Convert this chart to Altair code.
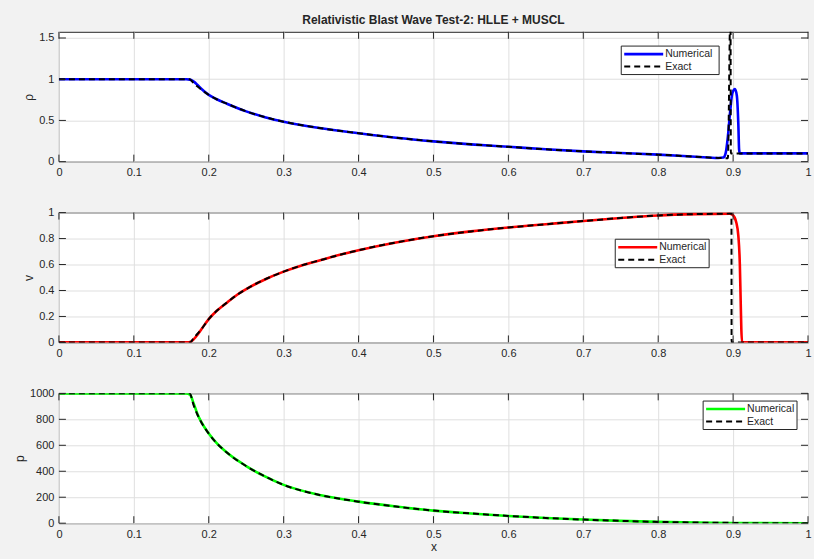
import altair as alt
import pandas as pd

# ---------------- data ----------------
x_ticks = [0, 0.1, 0.2, 0.3, 0.4, 0.5, 0.6, 0.7, 0.8, 0.9, 1.0]
rho_ticks = [0, 0.5, 1, 1.5]
v_ticks = [0, 0.2, 0.4, 0.6, 0.8, 1.0]
p_ticks = [0, 200, 400, 600, 800, 1000]

rho_num_x = [0, 0.17, 0.175, 0.18, 0.185, 0.19, 0.2, 0.21, 0.225, 0.25, 0.275, 0.3, 0.35, 0.4,
             0.45, 0.5, 0.55, 0.6, 0.65, 0.7, 0.75, 0.8, 0.85, 0.88, 0.887, 0.89, 0.893, 0.896,
             0.899, 0.9025, 0.905, 0.907, 0.908, 0.909, 1.0]
rho_num_y = [1, 1, 0.995, 0.97, 0.93, 0.885, 0.81, 0.76, 0.70, 0.61, 0.54, 0.485, 0.405, 0.345,
             0.29, 0.246, 0.21, 0.18, 0.15, 0.125, 0.105, 0.085, 0.06, 0.045, 0.05, 0.1, 0.3, 0.6,
             0.83, 0.88, 0.8, 0.45, 0.15, 0.1, 0.1]
rho_ex_x = [0, 0.1745, 0.18, 0.19, 0.2, 0.21, 0.225, 0.25, 0.275, 0.3, 0.35, 0.4, 0.45, 0.5,
            0.55, 0.6, 0.65, 0.7, 0.75, 0.8, 0.85, 0.88, 0.893, 0.8965, 0.897, 1.0]
rho_ex_y = [1, 1, 0.95, 0.875, 0.81, 0.76, 0.70, 0.61, 0.54, 0.485, 0.405, 0.345, 0.29, 0.246,
            0.21, 0.18, 0.15, 0.125, 0.105, 0.085, 0.06, 0.045, 0.042, 1.9, 0.1, 0.1]

v_num_x = [0, 0.172, 0.176, 0.18, 0.185, 0.19, 0.2, 0.21, 0.225, 0.2375, 0.25, 0.2625, 0.275,
           0.3, 0.325, 0.35, 0.375, 0.4, 0.45, 0.5, 0.55, 0.6, 0.65, 0.7, 0.75, 0.8, 0.85,
           0.895, 0.9, 0.904, 0.907, 0.909, 0.91, 0.911, 0.912, 1.0]
v_num_y = [0, 0, 0.005, 0.025, 0.06, 0.1, 0.18, 0.24, 0.31, 0.365, 0.41, 0.45, 0.485,
           0.545, 0.595, 0.635, 0.675, 0.71, 0.77, 0.818, 0.855, 0.885, 0.91, 0.935, 0.958,
           0.978, 0.988, 0.992, 0.98, 0.93, 0.82, 0.6, 0.35, 0.1, 0, 0]
v_ex_x = [0, 0.175, 0.18, 0.19, 0.2, 0.21, 0.225, 0.2375, 0.25, 0.2625, 0.275, 0.3, 0.325,
          0.35, 0.375, 0.4, 0.45, 0.5, 0.55, 0.6, 0.65, 0.7, 0.75, 0.8, 0.85, 0.895, 0.8978,
          0.898, 1.0]
v_ex_y = [0, 0, 0.035, 0.1, 0.18, 0.24, 0.31, 0.365, 0.41, 0.45, 0.485, 0.545, 0.595,
          0.635, 0.675, 0.71, 0.77, 0.818, 0.855, 0.885, 0.91, 0.935, 0.958, 0.978, 0.988,
          0.992, 0.992, 0, 0]

p_num_x = [0, 0.17, 0.175, 0.18, 0.185, 0.19, 0.2, 0.21, 0.225, 0.25, 0.275, 0.3, 0.35, 0.4,
           0.45, 0.5, 0.55, 0.6, 0.65, 0.7, 0.75, 0.8, 0.85, 0.9, 0.91, 1.0]
p_num_y = [1000, 1000, 990, 920, 840, 780, 690, 620, 540, 440, 360, 295, 215, 166, 128, 97, 75,
           56, 40, 28, 18, 10, 5, 2, 0.5, 0.01]
p_ex_x = [0, 0.1745, 0.18, 0.185, 0.19, 0.2, 0.21, 0.225, 0.25, 0.275, 0.3, 0.35, 0.4, 0.45,
          0.5, 0.55, 0.6, 0.65, 0.7, 0.75, 0.8, 0.85, 0.9, 0.91, 1.0]
p_ex_y = [1000, 1000, 905, 835, 778, 690, 620, 540, 440, 360, 295, 215, 166, 128, 97, 75, 56,
          40, 28, 18, 10, 5, 2, 0.5, 0.01]

series = ["Numerical", "Exact"]

W, H = 750, 130
AX = "#262626"
FONT = "Liberation Sans"
TL = 7
ONE = pd.DataFrame({"k": [0]})


def frame(xs, ys, name):
    return pd.DataFrame({"x": xs, "y": ys, "series": name})


def legend_layers(color, lx, ly, lw, lh):
    box = alt.Chart(ONE).mark_rect(fill="white", stroke=AX, strokeWidth=1).encode(
        x=alt.value(lx), x2=alt.value(lx + lw), y=alt.value(ly), y2=alt.value(ly + lh))
    r1y, r2y = ly + 8, ly + 20.5
    s1 = alt.Chart(ONE).mark_rule(color=color, strokeWidth=2.6).encode(
        x=alt.value(lx + 3), x2=alt.value(lx + 42), y=alt.value(r1y))
    s2 = alt.Chart(ONE).mark_rule(color="black", strokeWidth=2, strokeDash=[6, 4]).encode(
        x=alt.value(lx + 3), x2=alt.value(lx + 42), y=alt.value(r2y))
    t1 = alt.Chart(ONE).mark_text(align="left", baseline="middle", font=FONT, fontSize=10.5,
                                  color=AX).encode(
        x=alt.value(lx + 44), y=alt.value(r1y), text=alt.value(series[0]))
    t2 = alt.Chart(ONE).mark_text(align="left", baseline="middle", font=FONT, fontSize=10.5,
                                  color=AX).encode(
        x=alt.value(lx + 44), y=alt.value(r2y), text=alt.value(series[1]))
    return [box, s1, s2, t1, t2]


def panel(num, ex, color, ydom, yticks, yfmt, ytitle, leg, show_xtitle=False, title=None):
    xscale = alt.Scale(domain=[0, 1], nice=False, zero=False)
    yscale = alt.Scale(domain=ydom, nice=False, zero=False)
    xaxis = alt.Axis(values=x_ticks, format="~g", ticks=False, domain=False,
                     labelFlush=False, labelOverlap=False,
                     title="x" if show_xtitle else None, labelPadding=5,
                     titlePadding=2, titleFontWeight="normal", titleFontSize=12)
    yaxis = alt.Axis(values=yticks, format=yfmt, ticks=False, domain=False, title=ytitle,
                     labelFlush=False, labelOverlap=False,
                     labelPadding=5, titlePadding=3, titleFontWeight="normal",
                     titleFontSize=12)
    X = lambda f: alt.X(f, scale=xscale, axis=xaxis)
    Y = lambda f: alt.Y(f, scale=yscale, axis=yaxis)
    numl = alt.Chart(frame(num[0], num[1], series[0])).mark_line(
        strokeWidth=2.6, clip=True, color=color, interpolate="monotone").encode(
        x=X("x:Q"), y=Y("y:Q"))
    exl = alt.Chart(frame(ex[0], ex[1], series[1])).mark_line(
        strokeWidth=2, clip=True, color="black", strokeDash=[6, 4],
        interpolate="monotone").encode(x=X("x:Q"), y=Y("y:Q"))
    xt = pd.DataFrame({"t": x_ticks})
    yt = pd.DataFrame({"t": yticks})
    tb = alt.Chart(xt).mark_rule(color=AX, strokeWidth=1).encode(
        x=X("t:Q"), y=alt.value(H), y2=alt.value(H - TL))
    tt = alt.Chart(xt).mark_rule(color=AX, strokeWidth=1).encode(
        x=X("t:Q"), y=alt.value(0), y2=alt.value(TL))
    tl = alt.Chart(yt).mark_rule(color=AX, strokeWidth=1).encode(
        y=Y("t:Q"), x=alt.value(0), x2=alt.value(TL))
    tr = alt.Chart(yt).mark_rule(color=AX, strokeWidth=1).encode(
        y=Y("t:Q"), x=alt.value(W), x2=alt.value(W - TL))
    props = dict(width=W, height=H)
    if title:
        props["title"] = alt.Title(title, fontSize=12, fontWeight="bold", font=FONT,
                                   color=AX, anchor="middle", offset=4)
    layers = [numl, exl, tb, tt, tl, tr] + legend_layers(color, *leg)
    return alt.layer(*layers).properties(**props)


p1 = panel((rho_num_x, rho_num_y), (rho_ex_x, rho_ex_y), "#0000ff", [0, 1.575], rho_ticks,
           "~g", "ρ", (563, 14.3, 98, 28.5),
           title="Relativistic Blast Wave Test-2: HLLE + MUSCL")
p2 = panel((v_num_x, v_num_y), (v_ex_x, v_ex_y), "#ff0000", [0, 1], v_ticks,
           "~g", "v", (557, 26.7, 94, 28.5))
p3 = panel((p_num_x, p_num_y), (p_ex_x, p_ex_y), "#00ff00", [0, 1000], p_ticks,
           "d", "p", (645, 7.7, 94, 28.5), show_xtitle=True)

chart = alt.vconcat(p1, p2, p3, spacing=51, bounds="flush").properties(
    autosize=alt.AutoSizeParams(type="pad"),
    padding={"left": 13, "top": 13.5, "right": 2, "bottom": 5},
    background="#f2f2f2",
).configure_view(
    stroke=AX, strokeWidth=1, fill="white"
).configure_axis(
    grid=True, gridColor="#dfdfdf", gridWidth=1, labelFont=FONT, labelFontSize=11,
    labelColor=AX, titleFont=FONT, titleColor=AX,
)

chart.save("out.html", embed_options={"renderer": "svg", "actions": False})
